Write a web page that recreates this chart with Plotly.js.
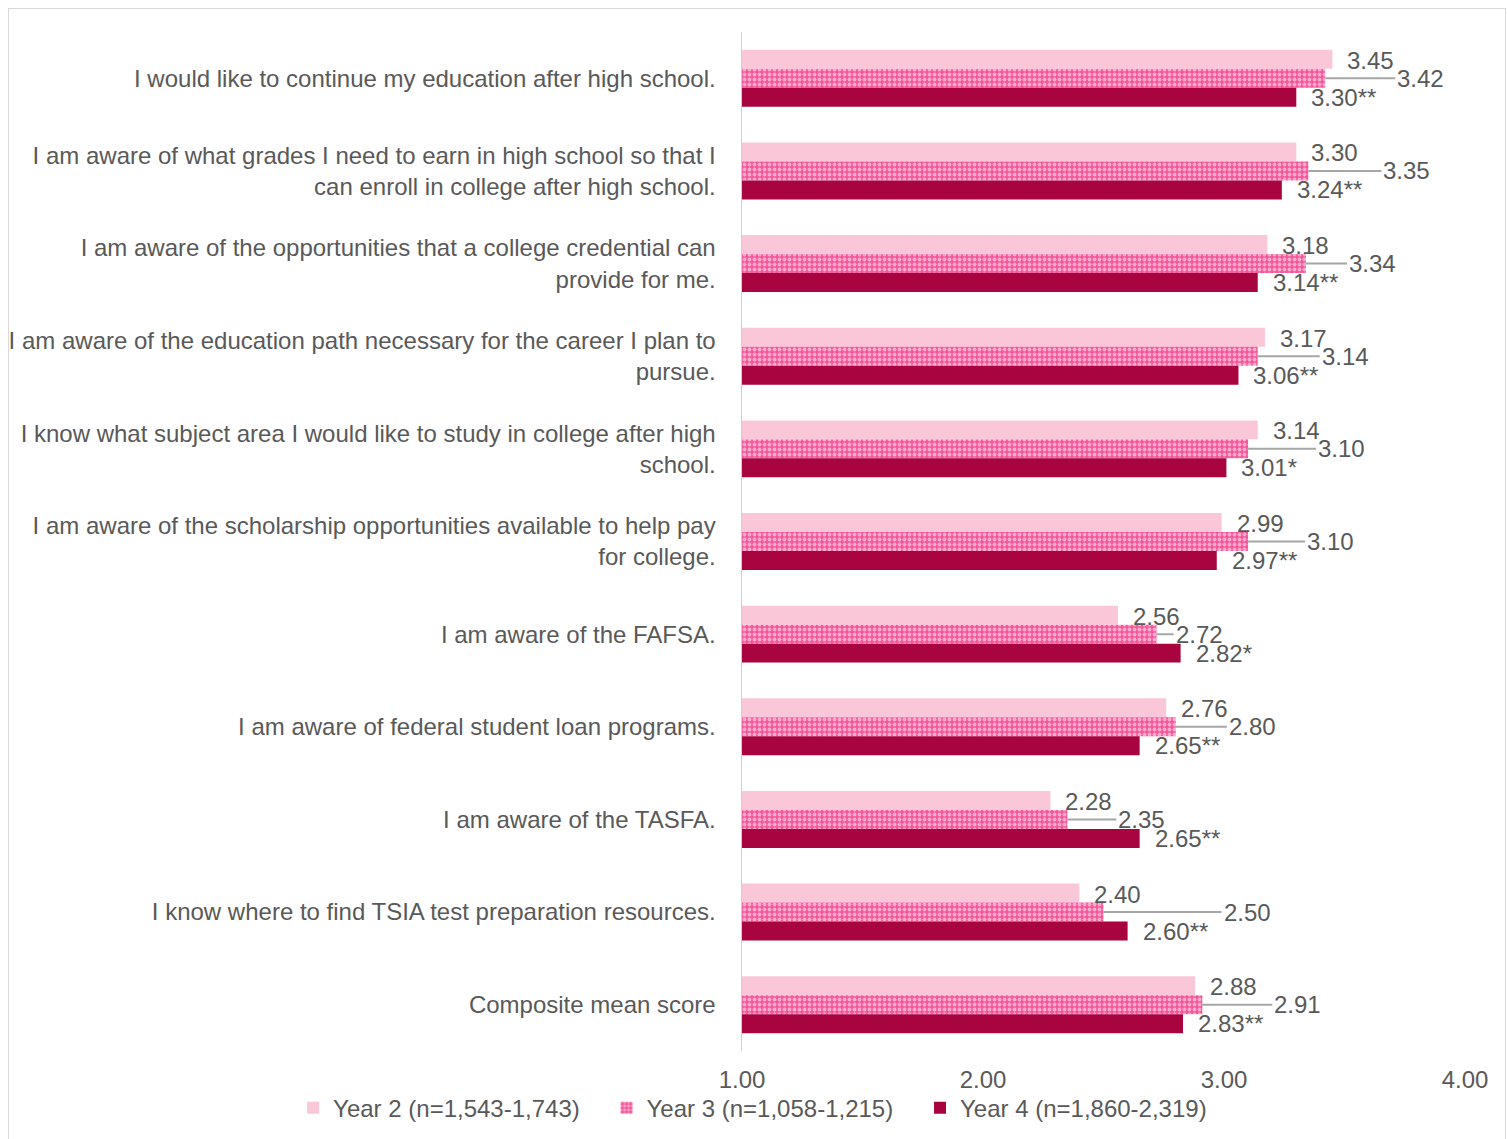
<!DOCTYPE html>
<html>
<head>
<meta charset="utf-8">
<script src="https://cdn.plot.ly/plotly-3.0.1.min.js"></script>
<style>
html,body{margin:0;padding:0;background:#fff;}
#chart{width:1507px;height:1139px;}
#frame{position:absolute;left:8px;top:8px;width:1496px;height:1150px;border:1.5px solid #d9d9d9;pointer-events:none;}
</style>
</head>
<body>
<div id="chart"></div>
<div id="frame"></div>
<script>
const categories = [
  "I would like to continue my education after high school.",
  "I am aware of what grades I need to earn in high school so that I<br>can enroll in college after high school.",
  "I am aware of the opportunities that a college credential can<br>provide for me.",
  "I am aware of the education path necessary for the career I plan to<br>pursue.",
  "I know what subject area I would like to study in college after high<br>school.",
  "I am aware of the scholarship opportunities available to help pay<br>for college.",
  "I am aware of the FAFSA.",
  "I am aware of federal student loan programs.",
  "I am aware of the TASFA.",
  "I know where to find TSIA test preparation resources.",
  "Composite mean score"
];
const year2 = [3.45, 3.30, 3.18, 3.17, 3.14, 2.99, 2.56, 2.76, 2.28, 2.40, 2.88];
const year3 = [3.42, 3.35, 3.34, 3.14, 3.10, 3.10, 2.72, 2.80, 2.35, 2.50, 2.91];
const year4 = [3.30, 3.24, 3.14, 3.06, 3.01, 2.97, 2.82, 2.65, 2.65, 2.60, 2.83];
const year4Sig = ["**", "**", "**", "**", "*", "**", "*", "**", "**", "**", "**"];
const seriesNames = ["Year 2 (n=1,543-1,743)", "Year 3 (n=1,058-1,215)", "Year 4 (n=1,860-2,319)"];
const xTickVals = [1, 2, 3, 4];
const xTickText = ["1.00", "2.00", "3.00", "4.00"];

// label placement (pixel offsets for Year 3 leader-line labels)
const year3LabelGap = [70, 73, 41, 62, 68, 57, 17, 51, 49, 118, 70];

const txtColor = "#595959";
const fontFam = "Liberation Sans, Arial, sans-serif";
const FS = 24;

const traces = [
  {type: "bar", orientation: "h", name: seriesNames[0], y: categories, x: year2, legend: "legend",
   marker: {color: "#fac7d9"}, hoverinfo: "x"},
  {type: "bar", orientation: "h", name: seriesNames[1], y: categories, x: year3, legend: "legend2",
   marker: {color: "#f5579a", pattern: {shape: ".", fgcolor: "#ffffff", bgcolor: "#f5579a", size: 5, solidity: 0.45, fillmode: "overlay"}},
   hoverinfo: "x"},
  {type: "bar", orientation: "h", name: seriesNames[2], y: categories, x: year4, legend: "legend3",
   marker: {color: "#a80540"}, hoverinfo: "x"}
];

const annotations = [];
const f = {family: fontFam, size: FS, color: txtColor};
categories.forEach((c, i) => {
  annotations.push({x: year2[i], y: c, xref: "x", yref: "y", text: year2[i].toFixed(2),
    showarrow: false, xanchor: "left", yanchor: "middle", xshift: 13, yshift: 18, font: f});
  annotations.push({x: year3[i], y: c, xref: "x", yref: "y", text: year3[i].toFixed(2),
    showarrow: true, arrowhead: 0, arrowwidth: 2, arrowcolor: "#a6a6a6", standoff: 0,
    ax: year3LabelGap[i], ay: 0, xanchor: "left", yanchor: "middle", font: f});
  annotations.push({x: year4[i], y: c, xref: "x", yref: "y", text: year4[i].toFixed(2) + year4Sig[i],
    showarrow: false, xanchor: "left", yanchor: "middle", xshift: 13, yshift: -19, font: f});
});

function leg(xLeft) {
  return {orientation: "h", xref: "container", yref: "container", x: xLeft, xanchor: "left",
    y: 0.027, yanchor: "middle", font: {family: fontFam, size: FS, color: txtColor},
    itemwidth: 30, bgcolor: "rgba(0,0,0,0)"};
}

const layout = {
  width: 1507, height: 1139,
  margin: {l: 742, r: 42, t: 32, b: 88},
  paper_bgcolor: "#ffffff", plot_bgcolor: "#ffffff",
  barmode: "group", bargap: 0.385, bargroupgap: 0,
  font: {family: fontFam, size: FS, color: txtColor},
  showlegend: true,
  legend: leg(0.1945),
  legend2: leg(0.4025),
  legend3: leg(0.6105),
  xaxis: {range: [1, 4], tickvals: xTickVals, ticktext: xTickText, showgrid: false, zeroline: false,
    showline: false, ticks: "", ticklabelstandoff: 12, tickfont: {family: fontFam, size: FS, color: txtColor}},
  yaxis: {autorange: "reversed", type: "category", showgrid: false, zeroline: false,
    showline: true, linecolor: "#d0d0d0", linewidth: 1.5, ticks: "", ticklabelstandoff: 20,
    tickfont: {family: fontFam, size: FS, color: txtColor}},
  annotations: annotations
};

Plotly.newPlot("chart", traces, layout, {displayModeBar: false, staticPlot: true});
</script>
</body>
</html>
